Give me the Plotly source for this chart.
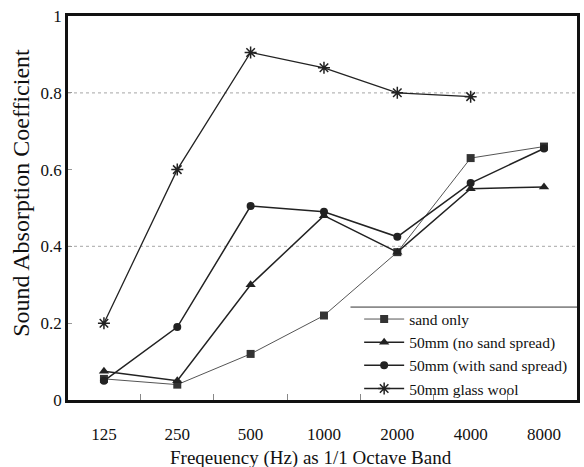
import plotly.graph_objects as go

freqs = ["125", "250", "500", "1000", "2000", "4000", "8000"]
sand_only = [0.055, 0.04, 0.12, 0.22, 0.385, 0.63, 0.66]
no_spread = [0.075, 0.05, 0.30, 0.48, 0.385, 0.55, 0.555]
with_spread = [0.05, 0.19, 0.505, 0.49, 0.425, 0.565, 0.655]
glass_wool = [0.20, 0.60, 0.905, 0.865, 0.80, 0.79]

FONT = "Liberation Serif, Times New Roman, DejaVu Serif, serif"

fig = go.Figure()
fig.add_trace(go.Scatter(x=freqs, y=sand_only, name="sand only", mode="lines+markers",
                         line=dict(color="#555555", width=1),
                         marker=dict(symbol="square", size=8, color="#333333")))
fig.add_trace(go.Scatter(x=freqs, y=no_spread, name="50mm (no sand spread)", mode="lines+markers",
                         line=dict(color="#222222", width=1.5),
                         marker=dict(symbol="triangle-up", size=9, color="#222222")))
fig.add_trace(go.Scatter(x=freqs, y=with_spread, name="50mm (with sand spread)", mode="lines+markers",
                         line=dict(color="#222222", width=1.5),
                         marker=dict(symbol="circle", size=8, color="#222222")))
fig.add_trace(go.Scatter(x=freqs[:len(glass_wool)], y=glass_wool, name="50mm glass wool", mode="lines+markers",
                         line=dict(color="#222222", width=1.3),
                         marker=dict(symbol="asterisk-open", size=10, line=dict(color="#222222", width=1.5))))

# dotted gridlines at 0.4 and 0.8
for v in [0.4, 0.8]:
    fig.add_shape(type="line", xref="paper", yref="y", x0=0, x1=1, y0=v, y1=v,
                  line=dict(color="#b8b8b8", width=1.2, dash="dot"), layer="below")

# legend top separator line
fig.add_shape(type="line", xref="paper", yref="paper", x0=0.555, x1=1, y0=0.242, y1=0.242,
              line=dict(color="#333333", width=1))

# axis titles as annotations
fig.add_annotation(xref="paper", yref="paper", x=-0.094, y=0.54, text="Sound Absorption Coefficient",
                   textangle=-90, showarrow=False, xanchor="center", yanchor="middle",
                   font=dict(family=FONT, size=24, color="#111111"))
fig.add_annotation(xref="paper", yref="paper", x=(312 - 68) / 512, y=-0.152,
                   text="Freqeuency (Hz) as 1/1 Octave Band",
                   showarrow=False, xanchor="center", yanchor="middle",
                   font=dict(family=FONT, size=19, color="#111111"))

fig.update_layout(
    width=584, height=467,
    margin=dict(l=68, r=4, t=16, b=67),
    paper_bgcolor="white", plot_bgcolor="white",
    font=dict(family=FONT, color="#111111", size=17),
    showlegend=True,
    legend=dict(x=0.572, y=0.254, xanchor="left", yanchor="top",
                bgcolor="rgba(255,255,255,0)", borderwidth=0,
                font=dict(family=FONT, size=15.5, color="#111111"),
                tracegroupgap=0, itemwidth=40),
    xaxis=dict(type="category", range=[-0.49, 6.45],
               showline=True, linecolor="#111111", linewidth=2.5, mirror=True,
               ticks="inside", tickson="boundaries", ticklen=6, tickcolor="#888888",
               showgrid=False, zeroline=False,
               tickfont=dict(family=FONT, size=17),
               ticklabelstandoff=17),
    yaxis=dict(range=[0, 1], tickvals=[0, 0.2, 0.4, 0.6, 0.8, 1],
               ticktext=["0", "0.2", "0.4", "0.6", "0.8", "1"],
               showline=True, linecolor="#111111", linewidth=2.5, mirror=True,
               ticks="inside", ticklen=4, tickcolor="#999999",
               showgrid=False, zeroline=False,
               tickfont=dict(family=FONT, size=17)),
)

fig.write_html("out.html")
